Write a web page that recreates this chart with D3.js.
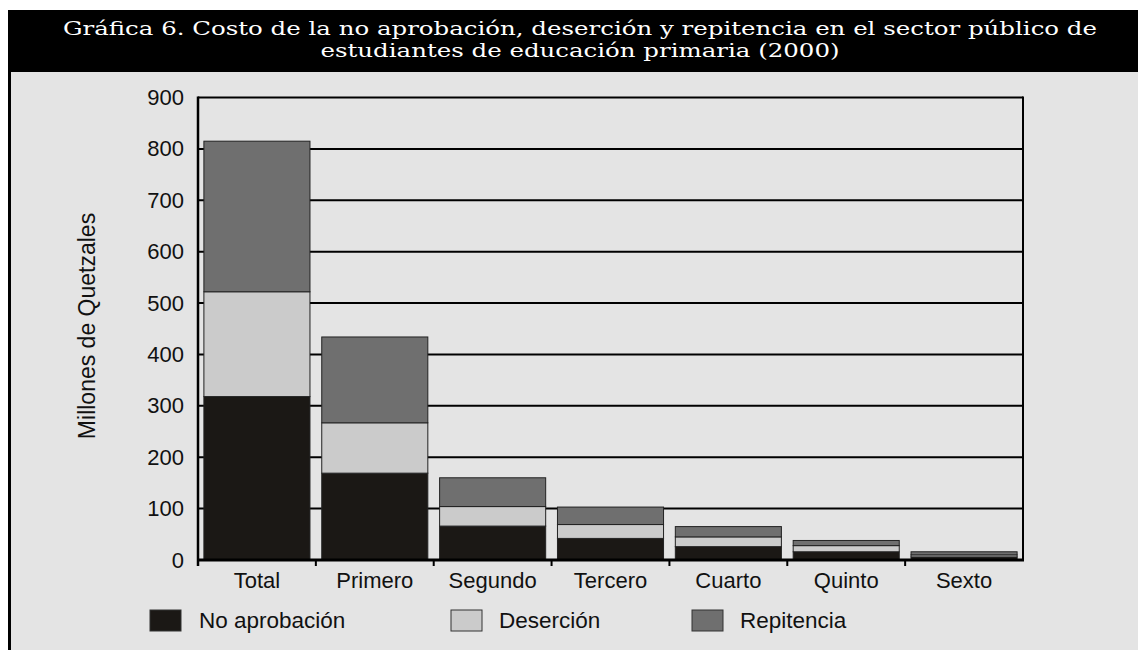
<!DOCTYPE html>
<html><head><meta charset="utf-8">
<script src="https://cdn.jsdelivr.net/npm/d3@7"></script>
<style>
html,body{margin:0;padding:0;background:#fff;}
svg{display:block;}
</style></head>
<body>
<svg id="chart" width="1138" height="650"></svg>
<script>
const titleLines = ["Gráfica 6. Costo de la no aprobación, deserción y repitencia en el sector público de",
                    "estudiantes de educación primaria (2000)"];
const yLabel = "Millones de Quetzales";
const categories = ["Total","Primero","Segundo","Tercero","Cuarto","Quinto","Sexto"];
const seriesNames = ["No aprobación","Deserción","Repitencia"];
const noAprobacion = [318,169,66,42,26,16,6];
const desercion    = [204,98,38,27,19,12,4];
const repitencia   = [293,167,56,34,20,10,6];
const yTicks = [0,100,200,300,400,500,600,700,800,900];
const colors = ["#1b1815","#cbcbcb","#6f6f6f"];

const svg = d3.select("#chart");
const sans = "'Liberation Sans', Arial, sans-serif";

// background panel
svg.append("rect").attr("x",9).attr("y",72).attr("width",1129).attr("height",578).attr("fill","#e4e4e4");
svg.append("line").attr("x1",9.5).attr("x2",9.5).attr("y1",72).attr("y2",650).attr("stroke","#000").attr("stroke-width",3);
// title bar
svg.append("rect").attr("x",8).attr("y",10).attr("width",1130).attr("height",62).attr("fill","#000");
const t1 = svg.append("text").attr("x",580).attr("y",35).attr("text-anchor","middle")
  .attr("fill","#fff").attr("font-family","'DejaVu Serif', serif").attr("font-size",19).text(titleLines[0]);
const w1 = t1.node().getComputedTextLength();
t1.attr("textLength",1034).attr("lengthAdjust","spacingAndGlyphs");
const t2 = svg.append("text").attr("x",580).attr("y",57).attr("text-anchor","middle")
  .attr("fill","#fff").attr("font-family","'DejaVu Serif', serif").attr("font-size",19).text(titleLines[1]);
const w2 = t2.node().getComputedTextLength();
t2.attr("textLength",w2*1034/w1).attr("lengthAdjust","spacingAndGlyphs");

const pL=198, pR=1023, pT=97.5, pB=560;
const x = d3.scaleBand().domain(categories).range([pL,pR]).paddingInner(0.1).paddingOuter(0.05);
const y = d3.scaleLinear().domain([0,900]).range([pB,pT]);

// gridlines
svg.append("g").selectAll("line").data(yTicks.filter(d=>d>0)).join("line")
  .attr("x1",pL).attr("x2",pR).attr("y1",d=>y(d)).attr("y2",d=>y(d))
  .attr("stroke","#000").attr("stroke-width",2);
// right border
svg.append("line").attr("x1",pR).attr("x2",pR).attr("y1",pT-1).attr("y2",pB).attr("stroke","#000").attr("stroke-width",2);

// stacked data
const table = categories.map((c,i)=>({cat:c,"No aprobación":noAprobacion[i],"Deserción":desercion[i],"Repitencia":repitencia[i]}));
const stack = d3.stack().keys(seriesNames)(table);
svg.append("g").selectAll("g").data(stack).join("g").attr("fill",(d,i)=>colors[i])
  .selectAll("rect").data(d=>d).join("rect")
  .attr("x",d=>x(d.data.cat)).attr("width",x.bandwidth())
  .attr("y",d=>y(d[1])).attr("height",d=>y(d[0])-y(d[1]))
  .attr("stroke","#222").attr("stroke-width",1);

// axes
const yAxis = d3.axisLeft(y).tickValues(yTicks).tickSize(0).tickPadding(14);
const gy = svg.append("g").attr("transform",`translate(${pL},0)`).call(yAxis);
gy.select(".domain").attr("stroke","#000").attr("stroke-width",2.5).attr("d",`M0,${pT-1}V${pB+6}`);
gy.selectAll("text").attr("font-family",sans).attr("font-size",22).attr("fill","#111");

const step = x.step();
const xb = svg.append("g");
xb.append("line").attr("x1",pL-1).attr("x2",pR+1).attr("y1",pB).attr("y2",pB).attr("stroke","#000").attr("stroke-width",3);
xb.selectAll("line.tk").data(d3.range(1,categories.length)).join("line").attr("class","tk")
  .attr("x1",i=>pL+i*step).attr("x2",i=>pL+i*step).attr("y1",pB).attr("y2",pB+6)
  .attr("stroke","#000").attr("stroke-width",2);
const xAxis = d3.axisBottom(x).tickSize(0).tickPadding(12);
const gx = svg.append("g").attr("transform",`translate(0,${pB})`).call(xAxis);
gx.select(".domain").remove();
gx.selectAll("text").attr("font-family",sans).attr("font-size",22).attr("fill","#111");

// y label
svg.append("text").attr("transform","translate(95,326) rotate(-90)").attr("text-anchor","middle")
  .attr("font-family",sans).attr("font-size",23).attr("fill","#111").text(yLabel);

// legend
const legX = [150,451,692];
const lg = svg.append("g").selectAll("g").data(seriesNames).join("g")
  .attr("transform",(d,i)=>`translate(${legX[i]},610)`);
lg.append("rect").attr("width",31).attr("height",21).attr("fill",(d,i)=>colors[i]).attr("stroke","#333").attr("stroke-width",1);
lg.append("text").attr("x",(d,i)=>i===0?49:48).attr("y",18).attr("font-family",sans).attr("font-size",22.5).attr("fill","#111").text(d=>d);
</script>
</body></html>
